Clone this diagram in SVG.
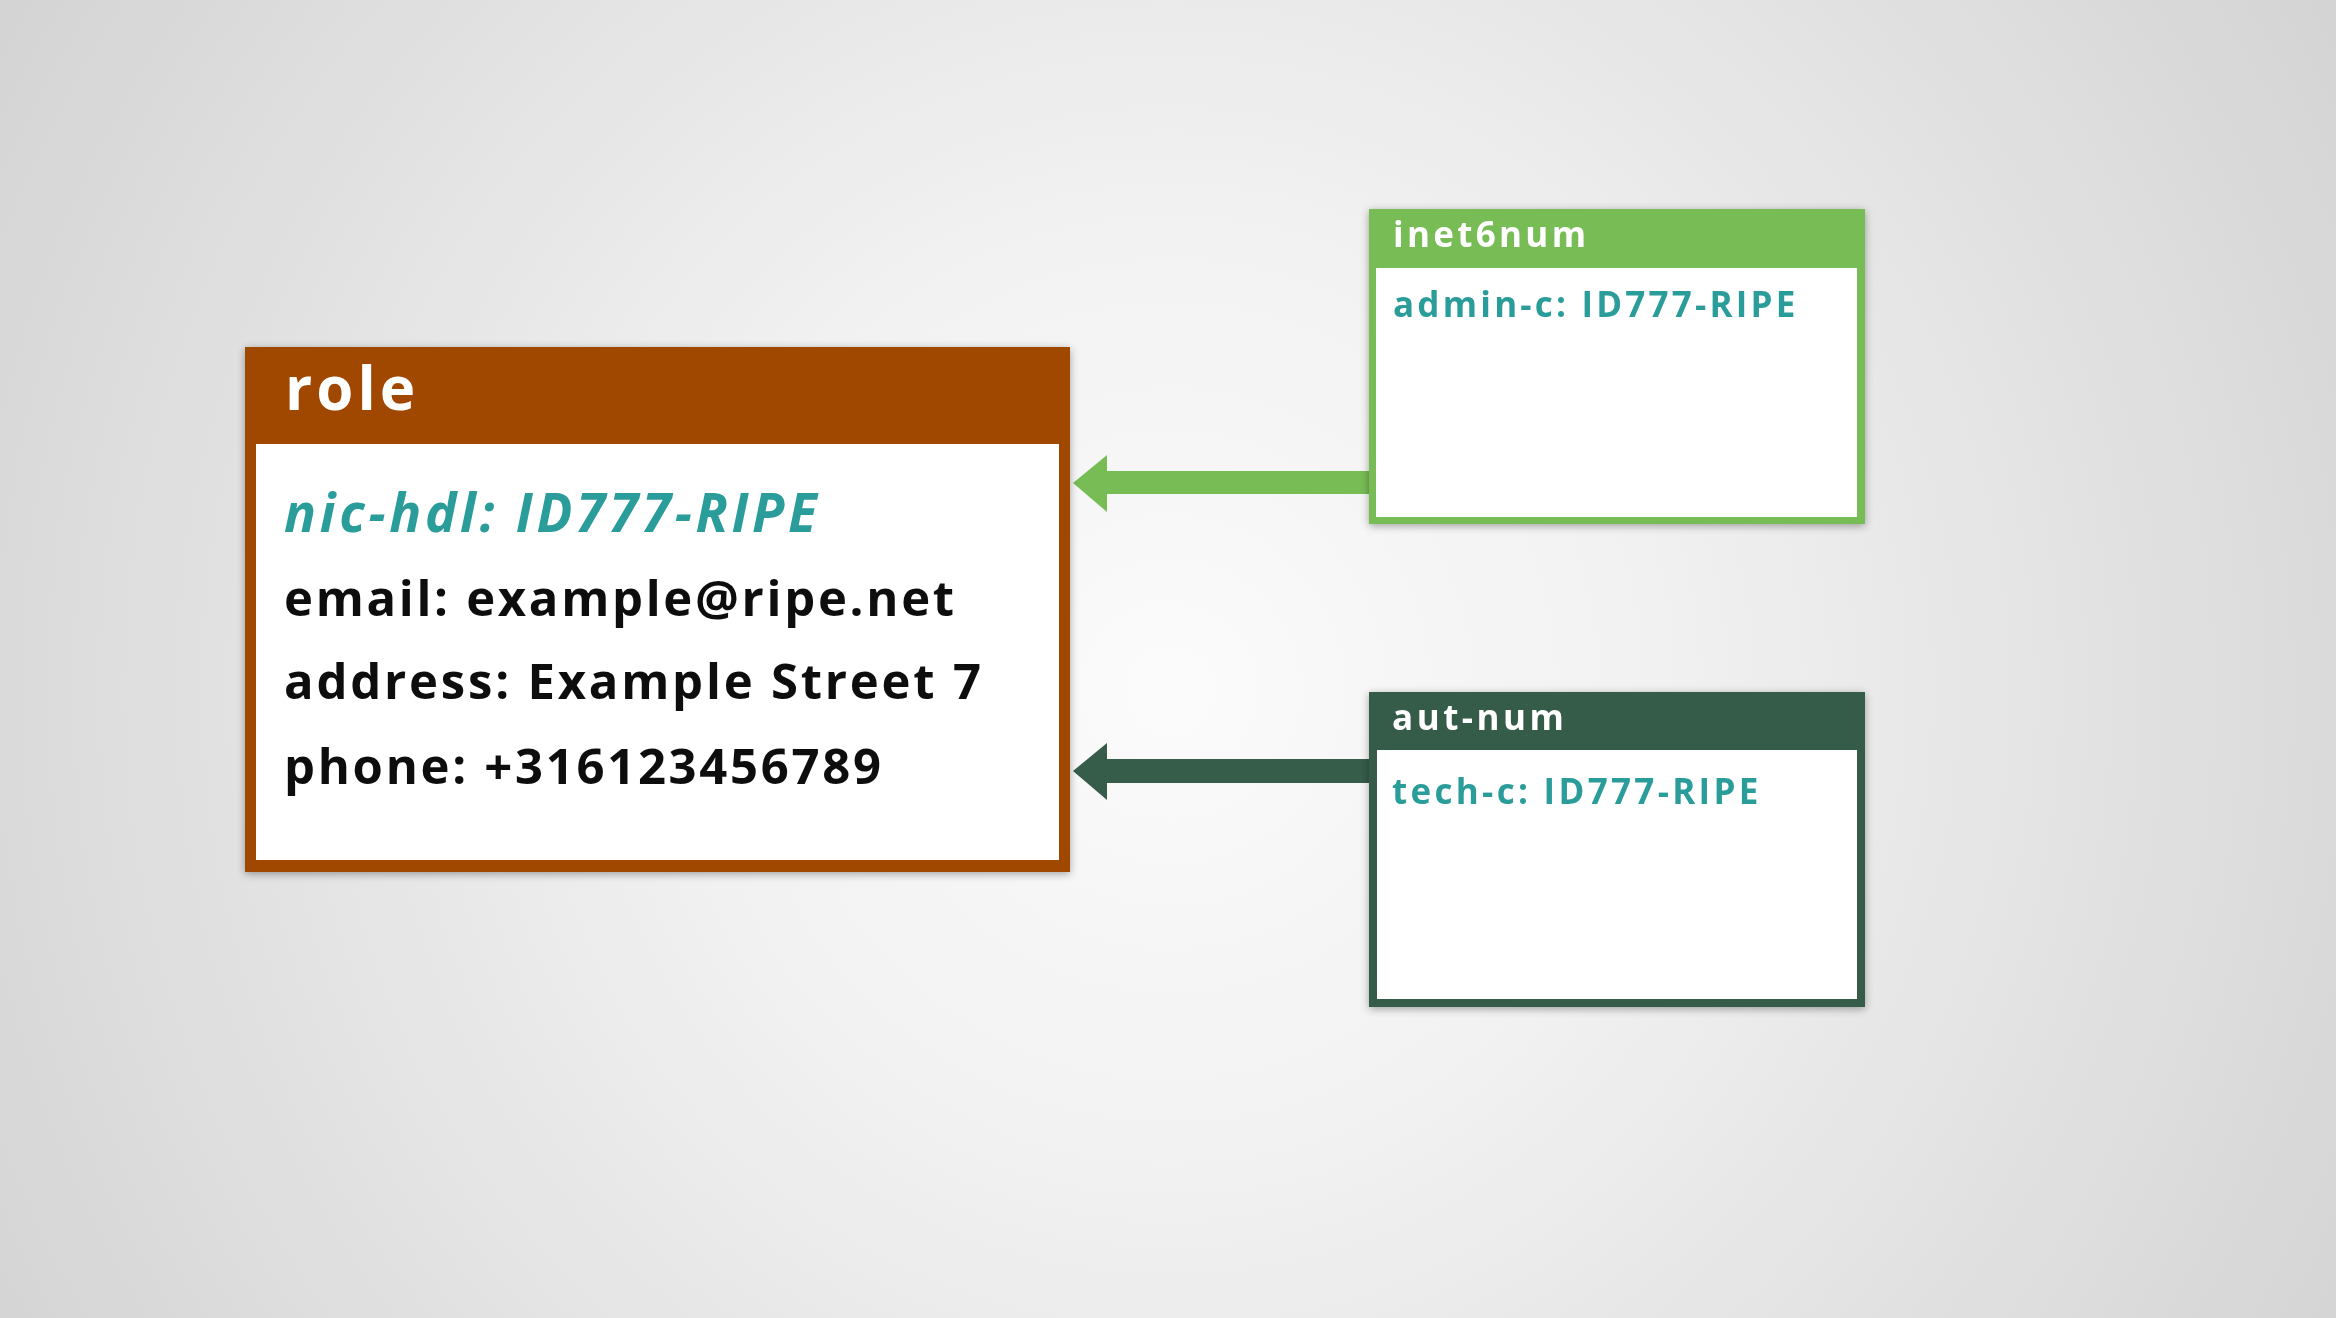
<svg xmlns="http://www.w3.org/2000/svg" width="2336" height="1318" viewBox="0 0 2336 1318">
<defs>
<radialGradient id="bg" cx="1170" cy="690" r="1400" gradientUnits="userSpaceOnUse">
<stop offset="0" stop-color="#fbfbfb"/>
<stop offset="0.35" stop-color="#f1f1f1"/>
<stop offset="1" stop-color="#d2d2d2"/>
</radialGradient>
<filter id="sh" x="-10%" y="-10%" width="120%" height="120%">
<feGaussianBlur in="SourceAlpha" stdDeviation="4"/>
<feOffset dx="0" dy="2"/>
<feComponentTransfer><feFuncA type="linear" slope="0.35"/></feComponentTransfer>
<feMerge><feMergeNode/><feMergeNode in="SourceGraphic"/></feMerge>
</filter>
</defs>
<style>
.t{font-family:"Open Sans","Noto Sans","Liberation Sans",sans-serif;font-weight:700}
.hd{fill:#ffffff}
.teal{fill:#2a9d9a}
.blk{fill:#111111}
.inner{fill:#ffffff}
</style>
<rect x="0" y="0" width="2336" height="1318" fill="url(#bg)"/>
<g id="connectors">
<path id="arrow-inet6num" d="M1369 471 L1107 471 L1107 455 L1073 483 L1107 512 L1107 494 L1369 494 Z" fill="#77bc55"/>
<path id="arrow-autnum" d="M1369 759 L1107 759 L1107 743 L1073 771 L1107 800 L1107 783 L1369 783 Z" fill="#365c4a"/>
</g>
<g id="role" filter="url(#sh)">
<rect x="245" y="347" width="825" height="525" fill="#a04602"/>
<rect class="inner" x="256" y="444" width="803" height="416"/>
<text class="t hd" x="285" y="410" font-size="60" letter-spacing="4">role</text>
<text class="t teal" x="284" y="532" font-size="53" font-style="italic" letter-spacing="3.7">nic-hdl: ID777-RIPE</text>
<text class="t blk" x="284" y="616" font-size="49" letter-spacing="2.7">email: example@ripe.net</text>
<text class="t blk" x="284" y="699" font-size="49" letter-spacing="2.8">address: Example Street 7</text>
<text class="t blk" x="284" y="784" font-size="49" letter-spacing="2.7">phone: +316123456789</text>
</g>
<g id="inet6num" filter="url(#sh)">
<rect x="1369" y="209" width="496" height="315" fill="#77bc55"/>
<rect class="inner" x="1376" y="268" width="481" height="249"/>
<text class="t hd" x="1393" y="247" font-size="35" letter-spacing="3.3">inet6num</text>
<text class="t teal" x="1393" y="317" font-size="35" letter-spacing="3.2">admin-c: ID777-RIPE</text>
</g>
<g id="aut-num" filter="url(#sh)">
<rect x="1369" y="692" width="496" height="315" fill="#365c4a"/>
<rect class="inner" x="1377" y="750" width="480" height="249"/>
<text class="t hd" x="1392" y="730" font-size="35" letter-spacing="3.5">aut-num</text>
<text class="t teal" x="1392" y="804" font-size="35" letter-spacing="3.3">tech-c: ID777-RIPE</text>
</g>
</svg>
